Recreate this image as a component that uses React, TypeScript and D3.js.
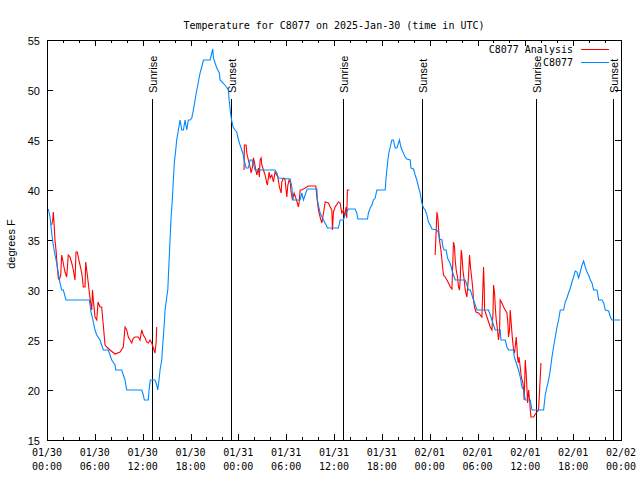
import React, { useEffect, useRef } from 'react';
import * as d3 from 'd3';

// hours since 2025-01-30 00:00 UTC, temperature in F
const T0 = Date.UTC(2025, 0, 30);
const toDate = (h: number) => new Date(T0 + h * 3600e3);

const yTicks = [15, 20, 25, 30, 35, 40, 45, 50, 55];

const sunEvents: { label: string; h: number }[] = [
  { label: 'Sunrise', h: 13.21 },
  { label: 'Sunset', h: 23.02 },
  { label: 'Sunrise', h: 37.18 },
  { label: 'Sunset', h: 46.99 },
  { label: 'Sunrise', h: 61.29 },
  { label: 'Sunset', h: 71.05 },
];

// station observations
const obs: [number, number][] = [
  [0.16, 38.1], [0.38, 37.3], [0.59, 35.7], [0.79, 34.5], [1.0, 33.5], [1.22, 32.7], [1.42, 31.7], [1.63, 30.7],
  [1.84, 30.0], [2.05, 30.0], [2.38, 29.0], [5.31, 29.0], [5.4, 28.5], [5.52, 27.8], [5.68, 27.3], [5.81, 26.8],
  [6.02, 26.0], [6.24, 25.5], [6.65, 25.0], [6.86, 24.5], [7.06, 24.0], [7.69, 24.0], [7.9, 23.5], [8.12, 23.0],
  [8.53, 22.5], [8.62, 22.0], [9.37, 22.0], [9.57, 21.5], [9.79, 21.0], [10.0, 20.0], [11.88, 20.0], [12.08, 19.5],
  [12.21, 19.0], [12.71, 19.0], [12.8, 20.0], [12.96, 21.0], [13.55, 21.0], [13.76, 20.5], [13.89, 20.0], [14.05, 21.0],
  [14.18, 22.0], [14.39, 23.0], [14.47, 24.0], [14.59, 25.3], [14.72, 26.7], [14.81, 28.0], [15.02, 29.3], [15.15, 30.0],
  [15.56, 37.2], [15.72, 39.0], [15.85, 41.0], [15.97, 42.7], [16.15, 44.0], [16.27, 45.0], [16.48, 46.0], [16.69, 47.0],
  [16.9, 46.0], [17.11, 46.0], [17.32, 47.0], [17.53, 46.0], [17.73, 47.0], [17.95, 47.0], [18.16, 47.2], [18.36, 48.0],
  [18.57, 49.0], [18.79, 50.0], [18.99, 50.8], [19.2, 51.7], [19.41, 52.3], [19.62, 53.0], [20.46, 53.0], [20.67, 53.7],
  [20.8, 54.1], [20.87, 53.2], [21.08, 52.7], [21.3, 52.2], [21.62, 51.7], [21.71, 51.0], [22.2, 50.6], [22.5, 50.3],
  [22.75, 50.0], [22.85, 49.0], [23.02, 47.7], [23.15, 47.0], [23.35, 46.3], [23.59, 46.0], [23.8, 45.8], [23.93, 45.3],
  [24.13, 44.7], [24.35, 44.2], [24.56, 43.7], [24.72, 43.0], [24.98, 42.2], [25.26, 42.2], [25.48, 43.0], [25.69, 43.0],
  [25.89, 42.7], [26.1, 42.0], [28.61, 42.0], [28.83, 41.7], [29.03, 41.2], [30.5, 41.1], [30.71, 40.3], [30.84, 39.0],
  [31.75, 39.0], [31.96, 39.7], [32.17, 39.0], [32.38, 39.5], [32.59, 40.0], [32.67, 40.1], [33.85, 40.1], [33.92, 39.0],
  [34.26, 37.7], [34.68, 37.0], [35.01, 36.5], [35.18, 36.2], [36.56, 36.2], [36.77, 37.0], [37.18, 37.0], [37.39, 37.5],
  [37.6, 37.8], [37.81, 38.1], [38.65, 38.1], [38.86, 37.7], [38.99, 37.1], [40.2, 37.1], [40.32, 37.7], [40.54, 38.2],
  [40.75, 38.5], [40.95, 39.0], [41.16, 39.2], [41.38, 40.0], [42.42, 40.0], [42.51, 41.0], [42.63, 42.0], [42.76, 43.0],
  [42.88, 43.7], [43.05, 44.3], [43.26, 45.0], [43.46, 45.0], [43.67, 44.2], [43.89, 44.2], [44.09, 44.7], [44.21, 45.0],
  [44.39, 44.3], [44.64, 43.8], [44.93, 43.3], [45.14, 43.1], [45.56, 43.0], [45.65, 42.2], [45.97, 42.1], [46.18, 41.5],
  [46.39, 41.0], [46.6, 40.3], [46.81, 39.7], [47.02, 38.7], [47.23, 38.2], [47.44, 38.0], [47.65, 37.5], [47.85, 36.8],
  [48.07, 36.5], [48.28, 36.1], [48.91, 36.0], [49.11, 35.7], [49.23, 35.1], [49.54, 35.0], [49.66, 34.3], [49.82, 34.0],
  [50.07, 34.0], [50.24, 33.2], [50.49, 32.8], [50.67, 32.4], [50.79, 32.0], [50.99, 31.5], [51.2, 31.0], [52.46, 31.0],
  [52.67, 30.5], [52.87, 30.0], [53.09, 30.0], [53.3, 29.5], [53.5, 29.0], [53.72, 28.5], [53.93, 28.0], [55.38, 28.0],
  [55.6, 27.5], [55.81, 27.0], [56.01, 26.5], [56.22, 26.0], [56.85, 26.0], [56.94, 25.0], [57.48, 25.0], [57.69, 24.3],
  [57.9, 24.0], [58.52, 24.0], [58.61, 23.3], [58.86, 22.7], [59.15, 22.0], [59.36, 21.3], [59.58, 20.3], [59.78, 20.0],
  [59.99, 19.0], [60.62, 19.0], [60.83, 18.0], [62.29, 18.0], [62.5, 19.5], [62.71, 20.3], [62.92, 21.0], [63.13, 22.0],
  [63.34, 23.3], [63.54, 24.3], [63.76, 25.3], [63.97, 26.3], [64.17, 27.0], [64.38, 28.0], [64.8, 28.0], [65.01, 28.8],
  [65.22, 29.2], [65.42, 29.7], [65.64, 30.2], [65.85, 30.8], [66.05, 31.3], [66.26, 31.9], [66.48, 31.8], [66.68, 31.2],
  [66.89, 31.8], [67.11, 32.5], [67.31, 32.9], [67.52, 32.3], [67.73, 31.8], [67.94, 31.5], [68.15, 31.0], [68.36, 30.7],
  [68.56, 30.0], [68.99, 30.0], [69.2, 29.0], [69.63, 29.0], [69.83, 28.7], [70.03, 28.0], [70.45, 27.9], [70.66, 27.3],
  [70.87, 27.0], [71.91, 27.0],
];

// analysis, three night-time stretches
const analysis1: [number, number][] = [
  [0.59, 36.5], [0.72, 37.0], [0.79, 37.8], [0.88, 36.7], [1.0, 35.0], [1.13, 34.0], [1.29, 32.3], [1.42, 31.2],
  [1.54, 31.0], [1.72, 31.5], [1.84, 33.5], [1.97, 33.0], [2.13, 32.3], [2.26, 31.8], [2.47, 31.3], [2.67, 33.5],
  [2.89, 33.3], [3.1, 32.7], [3.3, 32.0], [3.51, 31.0], [3.64, 33.8], [3.8, 33.8], [4.05, 32.8], [4.23, 32.2],
  [4.43, 31.3], [4.55, 30.3], [4.77, 30.3], [4.86, 32.8], [4.98, 32.0], [5.18, 30.7], [5.31, 29.7], [5.48, 28.7],
  [5.61, 28.0], [5.71, 30.0], [5.81, 29.0], [6.02, 27.3], [6.24, 27.0], [6.4, 28.8], [6.65, 28.3], [6.86, 28.3],
  [7.06, 26.5], [7.28, 24.5], [7.49, 24.3], [7.9, 24.0], [8.53, 23.6], [9.16, 23.8], [9.57, 24.3], [9.79, 26.3],
  [10.0, 26.0], [10.2, 25.3], [10.41, 25.0], [10.63, 24.7], [10.83, 25.2], [11.04, 25.3], [11.46, 25.3], [11.67, 25.0],
  [11.88, 26.0], [12.08, 25.5], [12.3, 25.2], [12.51, 24.8], [12.71, 24.7], [12.92, 25.0], [13.14, 24.7], [13.34, 24.2],
  [13.55, 23.7], [13.68, 24.7], [13.76, 26.3],
];

const analysis2: [number, number][] = [
  [24.72, 42.0], [24.76, 44.5], [24.98, 44.5], [25.06, 43.7], [25.26, 43.0], [25.48, 42.3], [25.6, 41.7], [25.77, 42.3],
  [25.89, 43.2], [26.02, 42.8], [26.19, 42.0], [26.32, 41.5], [26.52, 42.2], [26.64, 41.3], [26.73, 43.0], [26.86, 43.2],
  [26.95, 42.5], [27.15, 42.0], [27.36, 41.5], [27.57, 40.7], [27.65, 40.5], [27.86, 41.8], [27.99, 41.2], [28.2, 41.5],
  [28.4, 40.8], [28.61, 41.8], [28.95, 41.3], [29.15, 40.3], [29.37, 39.7], [29.45, 40.8], [29.66, 41.2], [29.87, 41.0],
  [29.99, 40.0], [30.08, 39.3], [30.21, 40.5], [30.37, 41.0], [30.5, 40.8], [30.62, 39.8], [30.79, 39.0], [31.0, 39.7],
  [31.21, 39.2], [31.41, 38.7], [31.54, 38.3], [31.66, 39.0], [31.75, 40.0], [31.96, 40.0], [32.79, 40.4], [33.72, 40.4],
  [33.85, 39.3], [34.05, 38.0], [34.26, 37.3], [34.48, 36.7], [34.68, 37.7], [34.89, 38.8], [35.3, 38.7], [35.52, 38.3],
  [35.73, 38.0], [35.81, 36.0], [35.93, 37.8], [36.14, 38.3], [36.56, 38.8], [36.77, 38.7], [36.98, 37.7], [37.18, 38.0],
  [37.31, 37.3], [37.52, 38.3], [37.6, 37.2], [37.68, 40.0], [37.93, 40.0],
];

const analysis3: [number, number][] = [
  [48.69, 33.5], [48.91, 37.8], [49.03, 37.2], [49.11, 36.2], [49.23, 35.0], [49.41, 34.0], [49.54, 33.0], [49.66, 32.0],
  [49.74, 31.5], [49.95, 31.3], [50.16, 31.0], [50.36, 30.7], [50.58, 30.3], [50.79, 30.1], [50.87, 32.0], [50.99, 34.8],
  [51.12, 34.3], [51.2, 33.0], [51.33, 32.0], [51.49, 31.3], [51.62, 30.3], [51.74, 30.0], [51.83, 31.0], [51.96, 34.0],
  [52.04, 33.5], [52.17, 32.0], [52.33, 31.0], [52.46, 30.0], [52.67, 29.3], [52.87, 31.3], [53.0, 33.5], [53.12, 32.3],
  [53.3, 31.0], [53.42, 30.0], [53.5, 29.0], [53.62, 28.3], [53.8, 27.8], [54.13, 27.7], [54.55, 27.3], [54.76, 32.3],
  [54.85, 30.0], [54.89, 28.0], [55.19, 27.3], [55.39, 26.8], [55.6, 26.3], [55.81, 26.0], [55.94, 27.7], [56.02, 30.5],
  [56.14, 29.7], [56.23, 28.3], [56.35, 27.0], [56.51, 26.0], [56.64, 25.0], [56.77, 26.0], [56.85, 29.0], [57.06, 28.7],
  [57.27, 28.3], [57.48, 28.0], [57.69, 27.7], [57.81, 26.7], [57.89, 25.3], [58.02, 26.0], [58.1, 28.0], [58.23, 26.7],
  [58.36, 25.3], [58.52, 24.0], [58.65, 23.7], [58.86, 25.3], [58.95, 24.3], [59.02, 23.3], [59.11, 22.7], [59.2, 23.3],
  [59.36, 22.3], [59.49, 21.3], [59.7, 20.7], [59.78, 20.0], [59.86, 19.0], [59.99, 23.0], [60.12, 21.5], [60.21, 20.0],
  [60.28, 18.7], [60.41, 20.0], [60.54, 19.0], [60.62, 18.0], [60.71, 17.3], [61.04, 17.3], [61.25, 17.6], [61.46, 17.8],
  [61.66, 18.0], [61.79, 20.0], [61.96, 22.7],
];

const RED = '#ff0000';
const BLUE = '#0088ff';
const MONO = '"DejaVu Sans Mono", monospace';
const SANS = '"Liberation Sans", Arial, sans-serif';

export default function App() {
  const svgRef = useRef<SVGSVGElement>(null);

  useEffect(() => {
    if (!svgRef.current) return;
    const svg = d3.select(svgRef.current);
    svg.selectAll('*').remove();

    const left = 47, right = 621, top = 40, bottom = 440;
    const x = d3.scaleUtc().domain([toDate(0), toDate(72)]).range([left, right]);
    const y = d3.scaleLinear().domain([15, 55]).range([bottom, top]);

    svg.append('rect').attr('width', 640).attr('height', 480).attr('fill', '#fff');

    // title
    svg.append('text')
      .attr('x', 334).attr('y', 25)
      .attr('text-anchor', 'middle').attr('dominant-baseline', 'central')
      .attr('font-family', MONO).attr('font-size', 10)
      .text('Temperature for C8077 on 2025-Jan-30 (time in UTC)');

    // y ticks + labels
    yTicks.forEach(t => {
      const yy = Math.round(y(t)) + 0.5;
      svg.append('line').attr('x1', left).attr('x2', left + 6).attr('y1', yy).attr('y2', yy)
        .attr('stroke', '#000').attr('shape-rendering', 'crispEdges');
      svg.append('line').attr('x1', right - 6).attr('x2', right).attr('y1', yy).attr('y2', yy)
        .attr('stroke', '#000').attr('shape-rendering', 'crispEdges');
      svg.append('text')
        .attr('x', 40).attr('y', y(t) + 1)
        .attr('text-anchor', 'end').attr('dominant-baseline', 'central')
        .attr('font-family', SANS).attr('font-size', 11)
        .text(t);
    });

    svg.append('text')
      .attr('transform', 'translate(11,244) rotate(-90)')
      .attr('text-anchor', 'middle').attr('dominant-baseline', 'central')
      .attr('font-family', SANS).attr('font-size', 11)
      .text('degrees F');

    // x ticks: major 6h, minor 2h
    const minor = d3.utcHour.every(2)!.range(toDate(0), toDate(72.01));
    minor.forEach(d => {
      const isMajor = d.getUTCHours() % 6 === 0;
      const len = isMajor ? 6 : 3;
      const xx = Math.round(x(d)) + 0.5;
      svg.append('line').attr('x1', xx).attr('x2', xx).attr('y1', bottom).attr('y2', bottom - len)
        .attr('stroke', '#000').attr('shape-rendering', 'crispEdges');
      svg.append('line').attr('x1', xx).attr('x2', xx).attr('y1', top).attr('y2', top + len)
        .attr('stroke', '#000').attr('shape-rendering', 'crispEdges');
    });
    const fmtDay = d3.utcFormat('%m/%d');
    const fmtHour = d3.utcFormat('%H:%M');
    d3.utcHour.every(6)!.range(toDate(0), toDate(72.01)).forEach(d => {
      const g = svg.append('g').attr('font-family', MONO).attr('font-size', 10).attr('text-anchor', 'middle');
      g.append('text').attr('x', x(d)).attr('y', 452).attr('dominant-baseline', 'central').text(fmtDay(d));
      g.append('text').attr('x', x(d)).attr('y', 466).attr('dominant-baseline', 'central').text(fmtHour(d));
    });

    // sunrise / sunset markers, label sits above the line reading upward
    sunEvents.forEach(ev => {
      const xx = Math.round(x(toDate(ev.h))) + 0.5;
      svg.append('line').attr('x1', xx).attr('x2', xx).attr('y1', 99).attr('y2', bottom)
        .attr('stroke', '#000').attr('shape-rendering', 'crispEdges');
      svg.append('text')
        .attr('transform', `translate(${xx},93) rotate(-90)`)
        .attr('text-anchor', 'start').attr('dominant-baseline', 'central')
        .attr('font-family', SANS).attr('font-size', 11)
        .text(ev.label);
    });

    const line = d3.line<[number, number]>()
      .x(d => x(toDate(d[0])))
      .y(d => y(d[1]));

    [analysis1, analysis2, analysis3].forEach(seg => {
      svg.append('path').attr('d', line(seg)).attr('fill', 'none')
        .attr('stroke', RED).attr('stroke-width', 1.1);
    });
    svg.append('path').attr('d', line(obs)).attr('fill', 'none')
      .attr('stroke', BLUE).attr('stroke-width', 1.1);

    // legend
    const legend = [
      { label: 'C8077 Analysis', color: RED, y: 49.5 },
      { label: 'C8077', color: BLUE, y: 62.5 },
    ];
    legend.forEach(l => {
      svg.append('text')
        .attr('x', 573).attr('y', l.y)
        .attr('text-anchor', 'end').attr('dominant-baseline', 'central')
        .attr('font-family', MONO).attr('font-size', 10)
        .text(l.label);
      svg.append('line').attr('x1', 581).attr('x2', 609).attr('y1', l.y).attr('y2', l.y)
        .attr('stroke', l.color).attr('shape-rendering', 'crispEdges');
    });

    // frame
    svg.append('rect')
      .attr('x', left + 0.5).attr('y', top + 0.5)
      .attr('width', right - left).attr('height', bottom - top)
      .attr('fill', 'none').attr('stroke', '#000').attr('shape-rendering', 'crispEdges');
  }, []);

  return (
    <svg ref={svgRef} width={640} height={480}
      style={{ position: 'absolute', left: 0, top: 0, display: 'block' }} />
  );
}
